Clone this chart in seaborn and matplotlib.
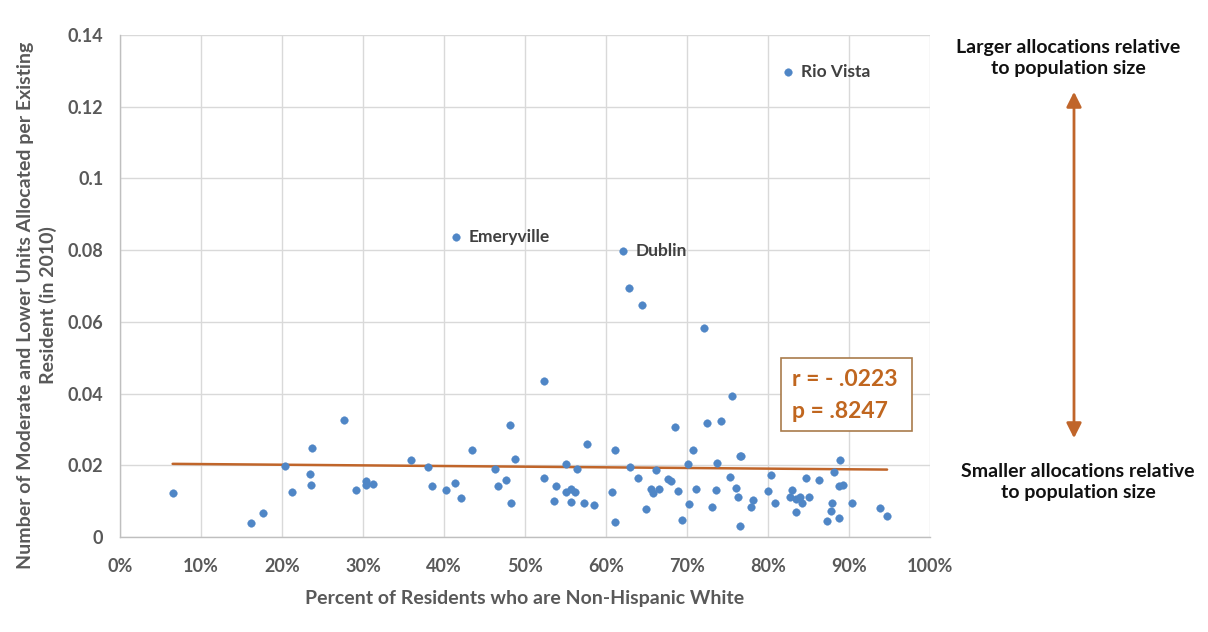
import matplotlib
matplotlib.use("Agg")
import matplotlib.pyplot as plt
from matplotlib.patches import Rectangle, FancyArrowPatch
from matplotlib.ticker import FuncFormatter
import seaborn as sns
import pandas as pd

# Percent of residents who are non-Hispanic white, per jurisdiction
pct_white = [
    6.6, 27.7, 23.7, 20.4, 23.5, 23.6, 21.2, 17.7, 16.2, 29.1, 30.4, 30.4, 31.2,
    52.4, 35.9, 38.0, 38.5, 40.2, 41.3, 42.1, 43.5, 46.3, 46.7, 47.7, 48.1, 48.8,
    48.3, 52.3, 53.8, 53.6, 55.1, 56.4, 55.1, 55.7, 56.2, 55.7, 57.3, 58.5, 57.7,
    60.7, 61.1, 61.1, 63.0, 64.0,
    62.9, 64.4, 72.1, 75.6, 68.5, 72.5, 74.2, 70.8, 70.1, 73.7, 76.5, 76.7, 66.2,
    67.6, 68.0, 75.3, 80.4, 65.6, 65.8, 66.5, 68.9, 71.1, 73.6, 76.1, 76.3, 78.1,
    77.9, 80.0, 80.9, 83.0, 82.7, 83.5, 83.4, 64.9, 70.2, 73.1, 69.4, 76.6,
    88.9, 88.1, 84.7, 86.3, 88.8, 89.2, 83.9, 84.2, 85.0, 87.9, 87.8, 87.3, 88.8,
    90.4, 93.8, 94.7,
]
# Moderate and lower units allocated per existing resident (2010)
units_per_resident = [
    0.0123, 0.0326, 0.0247, 0.0197, 0.0176, 0.0146, 0.0126, 0.0068, 0.0039, 0.0130,
    0.0156, 0.0144, 0.0147,
    0.0434, 0.0215, 0.0194, 0.0141, 0.0132, 0.0150, 0.0109, 0.0242, 0.0191, 0.0141,
    0.0159, 0.0311, 0.0218, 0.0094, 0.0165, 0.0142, 0.0100, 0.0203, 0.0191, 0.0126,
    0.0135, 0.0126, 0.0097, 0.0094, 0.0088, 0.0258, 0.0126, 0.0242, 0.0042, 0.0194,
    0.0165,
    0.0695, 0.0646, 0.0584, 0.0394, 0.0308, 0.0318, 0.0323, 0.0244, 0.0204, 0.0206,
    0.0226, 0.0226, 0.0188, 0.0163, 0.0156, 0.0168, 0.0174, 0.0133, 0.0124, 0.0135,
    0.0127, 0.0133, 0.0130, 0.0138, 0.0112, 0.0104, 0.0085, 0.0127, 0.0094, 0.0131,
    0.0112, 0.0107, 0.0069, 0.0078, 0.0092, 0.0085, 0.0047, 0.0030,
    0.0215, 0.0181, 0.0165, 0.0159, 0.0141, 0.0146, 0.0112, 0.0096, 0.0112, 0.0094,
    0.0073, 0.0044, 0.0053, 0.0094, 0.0080, 0.0059,
]

# Named outliers
label_names = ["Rio Vista", "Emeryville", "Dublin"]
label_x = [82.5, 41.5, 62.1]
label_y = [0.1297, 0.0836, 0.0798]

# Linear trend line endpoints
trend_x = [6.5, 94.7]
trend_y = [0.0204, 0.0188]

stats_lines = ["r = - .0223", "p = .8247"]

x_ticks = [0, 10, 20, 30, 40, 50, 60, 70, 80, 90, 100]
y_ticks = [0, 0.02, 0.04, 0.06, 0.08, 0.1, 0.12, 0.14]
y_tick_labels = ["0", "0.02", "0.04", "0.06", "0.08", "0.1", "0.12", "0.14"]

DOT = "#4f86c6"
TREND = "#c0652a"
BOX_TEXT = "#c0661f"
BOX_EDGE = "#a97b4c"
GRID = "#d9d9d9"
TICK = "#595959"

sns.set_theme(style="whitegrid")
plt.rcParams["font.family"] = ["Lato", "DejaVu Sans"]

W, H = 1208, 632
fig = plt.figure(figsize=(W / 100, H / 100), dpi=100)
ax = fig.add_axes([120 / W, 1 - 537 / H, 810 / W, 502 / H])

pts = pd.DataFrame({
    "pct": pct_white + label_x,
    "val": units_per_resident + label_y,
})
sns.scatterplot(data=pts, x="pct", y="val", ax=ax, color=DOT, s=30,
                edgecolor=DOT, linewidth=0.3, zorder=3)
sns.lineplot(x=trend_x, y=trend_y, ax=ax, color=TREND, linewidth=1.8, zorder=2)

for name, lx, ly in zip(label_names, label_x, label_y):
    ax.annotate(name, (lx, ly), xytext=(9, 0), textcoords="offset points",
                ha="left", va="center", fontsize=12.5, fontweight="bold",
                color="#404040")

ax.set_xlim(0, 100)
ax.set_ylim(0, 0.14)
ax.set_xticks(x_ticks)
ax.xaxis.set_major_formatter(FuncFormatter(lambda v, p: f"{v:.0f}%"))
ax.set_yticks(y_ticks)
ax.set_yticklabels(y_tick_labels)
ax.tick_params(axis="both", labelsize=13, labelcolor=TICK, length=0)
ax.tick_params(axis="x", pad=15)
ax.tick_params(axis="y", pad=12)
for lbl in ax.get_xticklabels() + ax.get_yticklabels():
    lbl.set_fontweight("bold")
ax.grid(True, color=GRID, linewidth=1)
for side in ["top", "right"]:
    ax.spines[side].set_visible(False)
for side in ["left", "bottom"]:
    ax.spines[side].set_color("#bfbfbf")
    ax.spines[side].set_linewidth(1)

ax.set_xlabel("Percent of Residents who are Non-Hispanic White", fontsize=14,
              fontweight="bold", color=TICK)
ax.xaxis.set_label_coords(0.5, -(590 - 537) / 502)
ax.set_ylabel("Number of Moderate and Lower Units Allocated per Existing\nResident (in 2010)",
              fontsize=14, fontweight="bold", color=TICK, linespacing=1.3)
ax.yaxis.set_label_coords(-(120 - 57) / 810, (537 - 305) / 502)


def fx(px):
    return px / W


def fy(py):
    return 1 - py / H


# Statistics box
fig.patches.append(Rectangle((fx(781), fy(431)), fx(912) - fx(781), fy(358) - fy(431),
                             transform=fig.transFigure, facecolor="white",
                             edgecolor=BOX_EDGE, linewidth=1.2, zorder=5))
for line, py in zip(stats_lines, [380, 411]):
    fig.text(fx(792), fy(py), line, ha="left", va="center", fontsize=16.5,
             fontweight="bold", color=BOX_TEXT, zorder=6)

# Side annotation with double-headed arrow
fig.text(fx(1068), fy(58), "Larger allocations relative\nto population size",
         ha="center", va="center", fontsize=14, fontweight="bold",
         color="#111111", linespacing=1.35)
fig.text(fx(1078), fy(482), "Smaller allocations relative\nto population size",
         ha="center", va="center", fontsize=14, fontweight="bold",
         color="#111111", linespacing=1.35)
fig.patches.append(FancyArrowPatch((fx(1074), fy(441)), (fx(1074), fy(89)),
                                   transform=fig.transFigure,
                                   arrowstyle="<|-|>,head_length=6,head_width=3",
                                   color=TREND, linewidth=2, mutation_scale=1.5))

fig.savefig("out.png", dpi=100, facecolor="white")
